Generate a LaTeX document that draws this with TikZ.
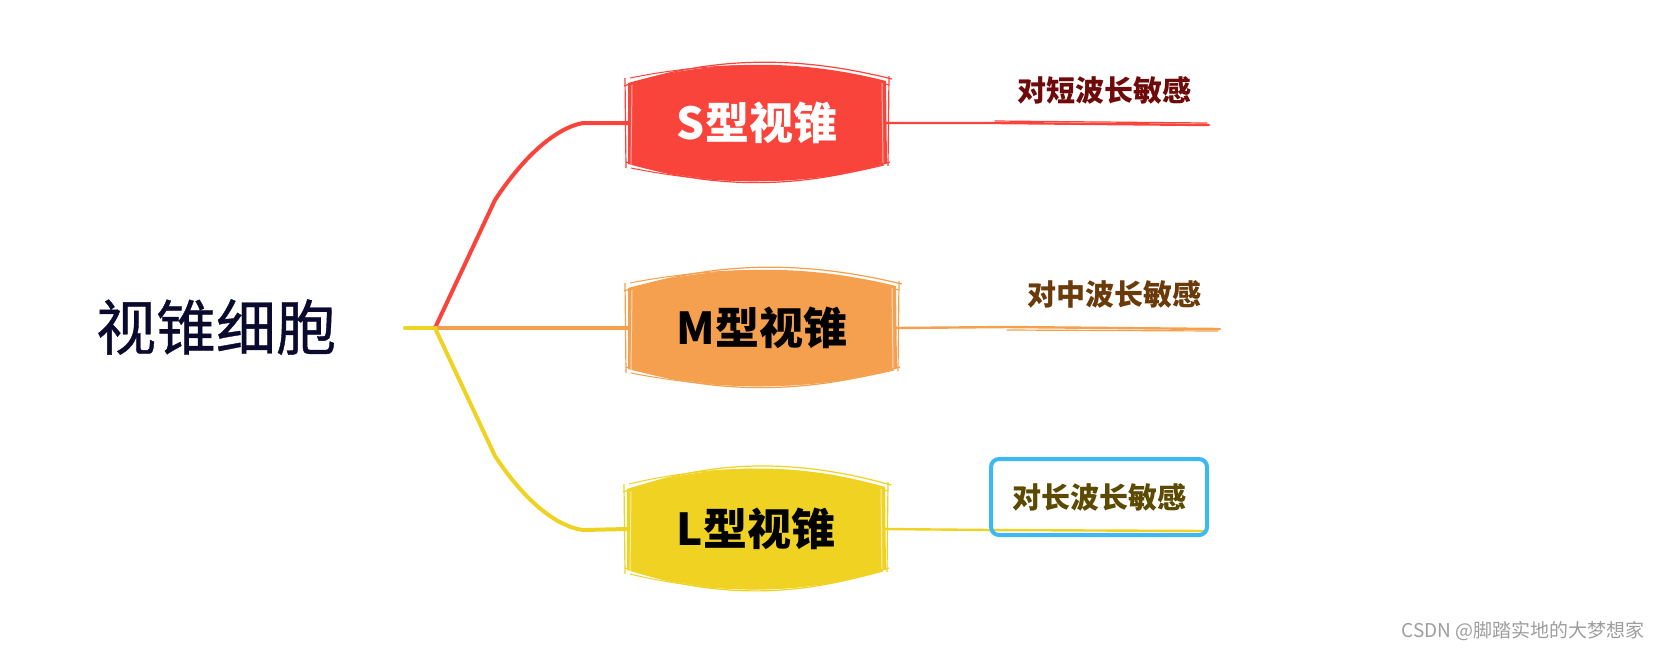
\documentclass[tikz,border=0pt]{standalone}
\usepackage{fontspec}
\setmainfont{Noto Sans CJK SC}
\newfontfamily\medfont[FakeBold=0.6]{Noto Sans CJK SC}
\usetikzlibrary{calc}
\definecolor{cred}{HTML}{F9443C}
\definecolor{corange}{HTML}{F5A04F}
\definecolor{cyellow}{HTML}{F0D223}
\definecolor{cblue}{HTML}{3CB9F0}
\definecolor{rootc}{HTML}{0A0A2E}
\definecolor{sleaf}{HTML}{6E0A0A}
\definecolor{mleaf}{HTML}{6B3A0A}
\definecolor{lleaf}{HTML}{5C4A00}
% #1 node, #2 colour, #3 half width, #4 extra bulge
\newcommand\drawcone[4]{%
\begin{scope}[shift={(#1.center)}]
\fill[#2] ({-#3},-40) .. controls ({-#3/3},{-60-#4}) and ({#3/3},{-60-#4}) .. ({#3},-42) -- ({#3+1},40) .. controls ({#3/3},{60+#4}) and ({-#3/3},{60+#4}) .. ({-#3},41) -- cycle;
\draw[#2, line width=0.6pt] ({-#3-4},-37) .. controls ({-#3/3},{-64-#4}) and ({#3/3},{-63-#4}) .. ({#3+6},-44);
\draw[#2, line width=0.5pt] ({-#3+2},-45) .. controls ({-#3/3},{-58-#4}) and ({#3/3},{-59-#4}) .. ({#3+3},-38);
\draw[#2, line width=0.6pt] ({-#3-2},39) .. controls ({-#3/3},{63+#4}) and ({#3/3},{62+#4}) .. ({#3+4},39);
\draw[#2, line width=0.5pt] ({-#3+3},45) .. controls ({-#3/3},{58+#4}) and ({#3/3},{59+#4}) .. ({#3-2},42);
\draw[#2, line width=0.6pt] ({-#3-3},-45) -- ({-#3-2},45);
\draw[white!60!#2, line width=0.5pt] ({-#3+4},-38) -- ({-#3+3},42);
\draw[#2, line width=0.6pt] ({#3+3},-47) -- ({#3+2},43);
\draw[white!60!#2, line width=0.5pt] ({#3-4},-40) -- ({#3-3},40);
\end{scope}}
\tikzset{
  conetext/.style={font=\bfseries\fontsize{22pt}{26pt}\selectfont, inner sep=0pt},
  leaftext/.style={font=\bfseries\fontsize{14.5pt}{17pt}\selectfont, inner sep=0pt},
  branch/.style={line width=2pt, line cap=round, line join=round},
  leafline/.style={line width=1.2pt, line cap=round},
  thinline/.style={line width=0.6pt, line cap=round},
}
\begin{document}
\begin{tikzpicture}[x=0.5pt,y=-0.5pt]
\useasboundingbox[fill=white] (0,0) rectangle (1664,650);
% root
\node[text=rootc, font=\medfont\fontsize{30pt}{34pt}\selectfont, inner sep=0pt] (root) at (216,327) {视锥细胞};
\coordinate (rs) at (405,328);
\coordinate (j) at (435,328);
% cone nodes
\node[conetext, minimum width=129pt, minimum height=40pt] (s) at (757,123) {};
\node[conetext, minimum width=134pt, minimum height=40pt] (m) at (762,328) {};
\node[conetext, minimum width=129pt, minimum height=40pt] (l) at (756,529) {};
% branches
\draw[branch, cyellow] (rs) -- (j);
\draw[branch, cred] (j) -- (495,200) .. controls (528,150) and (560,127) .. (583,123) -- (s.west);
\draw[branch, corange, line width=2.4pt] (j) -- (m.west);
\draw[branch, cyellow] (j) -- (495,456) .. controls (528,506) and (560,527) .. (583,530) -- (l.west);
% boxes
\drawcone{s}{cred}{129}{4}
\drawcone{m}{corange}{134}{4}
\drawcone{l}{cyellow}{129}{7}
\node[conetext, text=white] at (s) {S型视锥};
\node[conetext, text=black] at (m) {M型视锥};
\node[conetext, text=black] at (l) {L型视锥};
% leaves
\node[leaftext, text=sleaf] (sl) at (1104,90) {对短波长敏感};
\coordinate (se) at (1209,125);
\draw[leafline, cred] (s.east) -- (997,123) -- (se);
\draw[thinline, cred] (995,121) -- (1207,123);
\node[leaftext, text=mleaf] (ml) at (1114,294) {对中波长敏感};
\coordinate (me) at (1220,329);
\draw[leafline, corange] (m.east) -- (1008,327) -- (me);
\draw[thinline, corange] (1007,330) -- (1218,331);
\coordinate (le) at (1207,531);
\draw[leafline, cyellow] (l.east) -- (990,530) -- (le);
\node[leaftext, text=lleaf, draw=cblue, line width=2pt, rounded corners=4pt, minimum width=108pt, minimum height=38pt] (lb) at (1099,497) {对长波长敏感};
% watermark
\node[text=black!38, font=\fontsize{9.5pt}{11pt}\selectfont, inner sep=0pt] (wm) at (1523,631) {CSDN @脚踏实地的大梦想家};
\end{tikzpicture}
\end{document}
